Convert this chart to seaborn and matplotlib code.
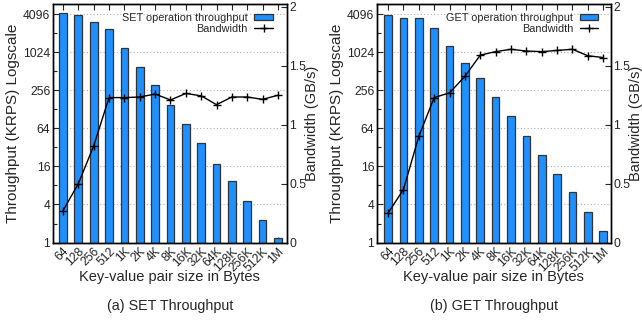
import numpy as np
import pandas as pd
import matplotlib
matplotlib.use("Agg")
import matplotlib.pyplot as plt
from matplotlib.ticker import FixedLocator, FixedFormatter, NullFormatter
import seaborn as sns

# ---------------- data ----------------
sizes = ["64", "128", "256", "512", "1K", "2K", "4K", "8K", "16K", "32K",
         "64K", "128K", "256K", "512K", "1M"]
set_krps = [4200, 3900, 3100, 2400, 1200, 600, 304, 147, 76, 38,
            17.6, 9.3, 4.6, 2.3, 1.19]
set_bw = [0.27, 0.50, 0.82, 1.23, 1.23, 1.235, 1.26, 1.21, 1.265, 1.245,
          1.17, 1.235, 1.235, 1.215, 1.25]
get_krps = [4000, 3540, 3540, 2430, 1260, 700, 394, 197, 100, 49,
            24.6, 12.3, 6.2, 3.0, 1.5]
get_bw = [0.25, 0.45, 0.90, 1.23, 1.27, 1.41, 1.59, 1.62, 1.64, 1.625,
          1.62, 1.63, 1.64, 1.585, 1.57]

ytick_major = [1, 4, 16, 64, 256, 1024, 4096]
ytick_minor = [2, 8, 32, 128, 512, 2048]
y2_ticks = [0, 0.5, 1, 1.5, 2]
y2_labels = ["0", "0.5", "1", "1.5", "2"]

sns.set_theme(style="ticks")
plt.rcParams["font.family"] = ["Liberation Sans", "DejaVu Sans"]
plt.rcParams["axes.linewidth"] = 1.0

FS = 8.7
fig = plt.figure(figsize=(6.42, 3.2), dpi=100)

panels = [
    dict(rect=[53 / 642, 0.242, 233.7 / 642, 0.744], krps=set_krps, bw=set_bw,
         name="SET operation throughput", cap="(a) SET Throughput",
         xlim=(-0.65, 14.57), leg=(0.941, 0.965)),
    dict(rect=[377 / 642, 0.242, 233.7 / 642, 0.744], krps=get_krps, bw=get_bw,
         name="GET operation throughput", cap="(b) GET Throughput",
         xlim=(-0.72, 14.49), leg=(0.947, 0.965)),
]

for p in panels:
    ax = fig.add_axes(p["rect"])
    df = pd.DataFrame({"size": sizes, "krps": p["krps"], "bw": p["bw"]})
    df["pos"] = np.arange(len(sizes))
    sns.barplot(data=df, x="size", y="krps", ax=ax, color="#1E90FF",
                saturation=1, width=0.5, edgecolor="#333333", linewidth=0.9,
                label=p["name"])
    ax.set_yscale("log", base=2)
    ax.set_ylim(1, 2 ** 12.5)
    ax.set_xlim(*p["xlim"])
    ax.yaxis.set_major_locator(FixedLocator(ytick_major))
    ax.yaxis.set_major_formatter(FixedFormatter([str(v) for v in ytick_major]))
    ax.yaxis.set_minor_locator(FixedLocator(ytick_minor))
    ax.yaxis.set_minor_formatter(NullFormatter())
    ax.yaxis.grid(True, which="major", linestyle=(0, (1, 2)),
                  color="#b0b0b0", linewidth=0.8)
    ax.set_axisbelow(True)
    ax.tick_params(axis="y", which="major", direction="in", length=4,
                   width=0.8, labelsize=FS, pad=2, right=False)
    ax.tick_params(axis="y", which="minor", direction="in", length=3,
                   width=0.8, right=False)
    ax.tick_params(axis="x", direction="in", length=4, width=0.8,
                   labelsize=FS, top=True, pad=2)
    ax.set_xticks(range(len(sizes)))
    ax.set_xticklabels(sizes, rotation=45, ha="right", va="top",
                       rotation_mode="anchor")
    ax.set_xlabel("Key-value pair size in Bytes", fontsize=10.5)
    ax.xaxis.set_label_coords(0.5, -0.115)
    ax.set_ylabel("Throughput (KRPS) Logscale", fontsize=11)
    ax.yaxis.set_label_coords(-0.14, 0.5)
    for s in ax.spines.values():
        s.set_color("black")
        s.set_linewidth(1.0)

    ax2 = ax.twinx()
    sns.lineplot(data=df, x="pos", y="bw", ax=ax2, color="black",
                 linewidth=1.0, marker="+", markersize=6, markeredgewidth=1.0,
                 markeredgecolor="black", label="Bandwidth")
    ax2.set_ylim(0, 2.02)
    ax2.set_xlim(*p["xlim"])
    ax2.set_yticks(y2_ticks)
    ax2.set_yticklabels(y2_labels)
    ax2.tick_params(axis="y", direction="in", length=4, width=0.8,
                    labelsize=FS, pad=2)
    ax2.set_ylabel("Bandwidth (GB/s)", fontsize=10.5)
    ax2.yaxis.set_label_coords(1.08, 0.5)
    ax2.set_xlabel("")
    for s in ax2.spines.values():
        s.set_color("black")
        s.set_linewidth(1.0)

    h1, l1 = ax.get_legend_handles_labels()
    h2, l2 = ax2.get_legend_handles_labels()
    if ax.get_legend():
        ax.get_legend().remove()
    if ax2.get_legend():
        ax2.get_legend().remove()
    ax2.legend(h1 + h2, l1 + l2, loc="upper right", bbox_to_anchor=p["leg"],
               frameon=False, markerfirst=False, fontsize=7.8,
               borderaxespad=0, borderpad=0, handlelength=1.7,
               handleheight=0.5, handletextpad=0.6, labelspacing=0.1)

    cx = p["rect"][0] + p["rect"][2] / 2
    fig.text(cx, 0.045, p["cap"], ha="center", va="center", fontsize=10.3)

fig.savefig("out.png", dpi=100)
